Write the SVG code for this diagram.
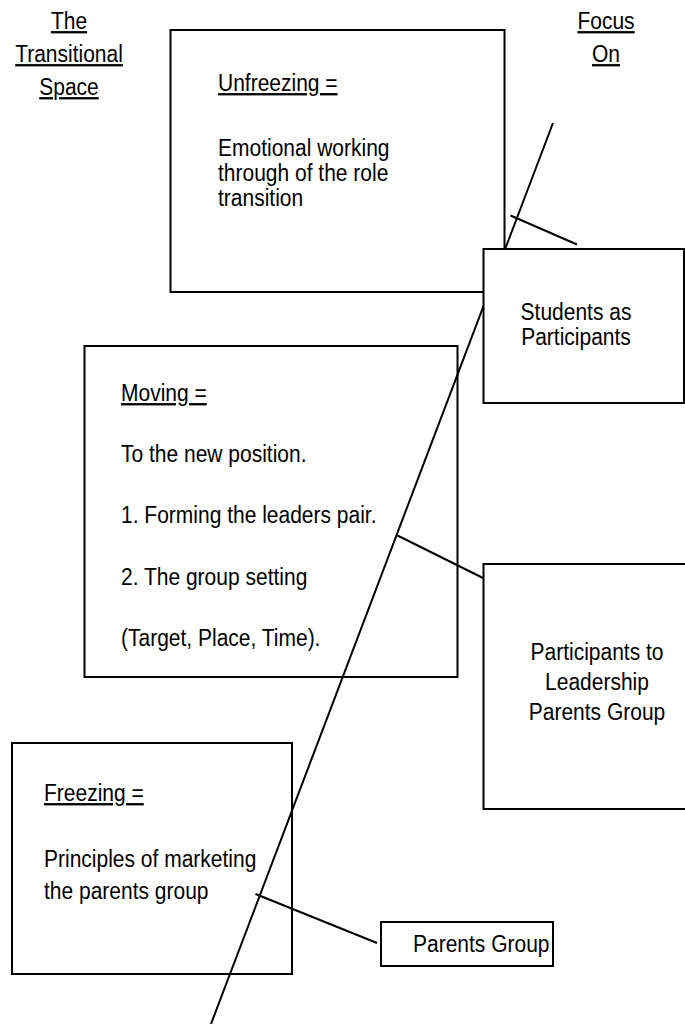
<svg xmlns="http://www.w3.org/2000/svg" width="685" height="1024" viewBox="0 0 685 1024">
<style>
  .box{fill:#fff;stroke:#000;stroke-width:2}
  .t{font-family:"Liberation Sans",Arial,sans-serif;font-size:21px;fill:#000}
  .u{text-decoration:underline}
  .c{text-anchor:middle}
  .ln{stroke:#000;stroke-width:2;fill:none}
</style>
<rect width="685" height="1024" fill="#fff"/>
<g id="label-transitional-space">
  <text class="t u c" transform="translate(69 29) scale(1 1.1)">The</text>
  <text class="t u c" transform="translate(69 62) scale(1 1.1)">Transitional</text>
  <text class="t u c" transform="translate(69 95) scale(1 1.1)">Space</text>
</g>
<g id="label-focus-on">
  <text class="t u c" transform="translate(606 29) scale(1 1.1)">Focus</text>
  <text class="t u c" transform="translate(606 62) scale(1 1.1)">On</text>
</g>
<g id="unfreezing">
  <rect class="box" x="170.5" y="30" width="334" height="262"/>
  <text class="t u" transform="translate(218 91) scale(1 1.1)">Unfreezing =</text>
  <text class="t" transform="translate(218 156) scale(1 1.1)">Emotional working</text>
  <text class="t" transform="translate(218 181) scale(1 1.1)">through of the role</text>
  <text class="t" transform="translate(218 206) scale(1 1.1)">transition</text>
</g>
<g id="moving">
  <rect class="box" x="84.5" y="346" width="373" height="331"/>
  <text class="t u" transform="translate(121 401) scale(1 1.1)">Moving =</text>
  <text class="t" transform="translate(121 462) scale(1 1.1)">To the new position.</text>
  <text class="t" transform="translate(121 523) scale(1 1.1)">1. Forming the leaders pair.</text>
  <text class="t" transform="translate(121 585) scale(1 1.1)">2. The group setting</text>
  <text class="t" transform="translate(121 646) scale(1 1.1)">(Target, Place, Time).</text>
</g>
<g id="freezing">
  <rect class="box" x="12" y="743" width="280" height="231"/>
  <text class="t u" transform="translate(44 801) scale(1 1.1)">Freezing =</text>
  <text class="t" transform="translate(44 867) scale(1 1.1)">Principles of marketing</text>
  <text class="t" transform="translate(44 899) scale(1 1.1)">the parents group</text>
</g>
<g id="connectors">
  <line class="ln" x1="553" y1="123" x2="211" y2="1024"/>
  <line class="ln" x1="510.5" y1="215.5" x2="577" y2="244.5"/>
  <line class="ln" x1="397.5" y1="535.5" x2="484" y2="578.5"/>
  <line class="ln" x1="255.5" y1="894" x2="377" y2="943"/>
</g>
<g id="students">
  <rect class="box" x="483.5" y="249" width="200.5" height="154"/>
  <text class="t c" transform="translate(576 320) scale(1 1.1)">Students as</text>
  <text class="t c" transform="translate(576 345) scale(1 1.1)">Participants</text>
</g>
<g id="participants-leadership">
  <rect class="box" x="483.5" y="564" width="210" height="245"/>
  <text class="t c" transform="translate(597 660) scale(1 1.1)">Participants to</text>
  <text class="t c" transform="translate(597 690) scale(1 1.1)">Leadership</text>
  <text class="t c" transform="translate(597 720) scale(1 1.1)">Parents Group</text>
</g>
<g id="parents-group">
  <rect class="box" x="381" y="922" width="172" height="44"/>
  <text class="t" transform="translate(413 952) scale(1 1.1)">Parents Group</text>
</g>
</svg>
